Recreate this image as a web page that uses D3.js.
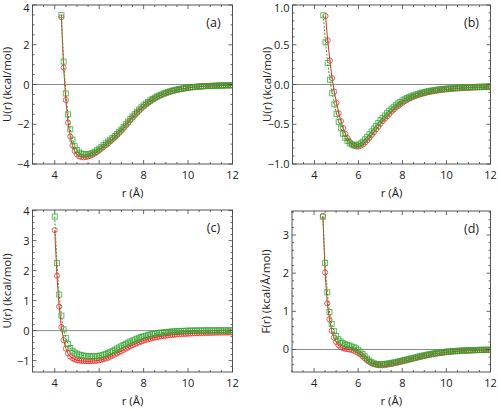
<!DOCTYPE html>
<html><head><meta charset="utf-8">
<script src="https://cdn.jsdelivr.net/npm/d3@7"></script>
<style>
body{margin:0;background:#fff;}
text{font-family:"Open Sans",sans-serif;fill:#222;}
</style></head>
<body><svg id="c" width="498" height="409"></svg>
<script>
// ---------- data (r in Å, 0.1 Å sampling) ----------
const xTicks = [4, 6, 8, 10, 12];
const aStart = 4.3;
const aGreen = [3.50,1.15,-0.45,-1.50,-2.25,-2.77,-3.10,-3.30,-3.42,-3.48,-3.51,-3.52,-3.51,-3.48,-3.44,-3.38,-3.31,-3.23,-3.14,-3.05,-2.96,-2.87,-2.78,-2.69,-2.59,-2.49,-2.38,-2.26,-2.13,-2.00,-1.87,-1.74,-1.61,-1.49,-1.37,-1.26,-1.15,-1.05,-0.96,-0.88,-0.80,-0.73,-0.66,-0.60,-0.55,-0.50,-0.45,-0.41,-0.37,-0.34,-0.31,-0.28,-0.25,-0.23,-0.21,-0.19,-0.17,-0.155,-0.14,-0.13,-0.12,-0.11,-0.10,-0.09,-0.085,-0.08,-0.075,-0.07,-0.065,-0.06,-0.055,-0.05,-0.048,-0.045,-0.042,-0.04,-0.038,-0.035];
const aRed = [3.38,0.85,-0.78,-1.92,-2.62,-3.07,-3.35,-3.52,-3.61,-3.65,-3.66,-3.65,-3.62,-3.58,-3.53,-3.47,-3.40,-3.32,-3.23,-3.14,-3.05,-2.96,-2.86,-2.76,-2.66,-2.55,-2.44,-2.32,-2.19,-2.06,-1.93,-1.80,-1.67,-1.55,-1.43,-1.32,-1.21,-1.11,-1.01,-0.93,-0.85,-0.77,-0.70,-0.64,-0.58,-0.53,-0.48,-0.44,-0.40,-0.36,-0.33,-0.30,-0.27,-0.25,-0.23,-0.21,-0.19,-0.17,-0.155,-0.14,-0.13,-0.12,-0.11,-0.10,-0.095,-0.09,-0.085,-0.08,-0.075,-0.07,-0.065,-0.06,-0.057,-0.054,-0.051,-0.048,-0.045,-0.042];

const bGreenStart = 4.4;
const bGreen = [0.87,0.53,0.27,0.06,-0.11,-0.25,-0.37,-0.47,-0.55,-0.62,-0.67,-0.71,-0.74,-0.755,-0.765,-0.765,-0.755,-0.74,-0.72,-0.69,-0.66,-0.625,-0.59,-0.555,-0.52,-0.485,-0.45,-0.42,-0.39,-0.36,-0.33,-0.305,-0.28,-0.26,-0.24,-0.22,-0.20,-0.185,-0.17,-0.16,-0.148,-0.137,-0.127,-0.118,-0.11,-0.102,-0.095,-0.089,-0.083,-0.078,-0.073,-0.069,-0.065,-0.061,-0.058,-0.055,-0.052,-0.05,-0.048,-0.046,-0.044,-0.042,-0.04,-0.038,-0.037,-0.035,-0.034,-0.033,-0.032,-0.031,-0.03,-0.029,-0.028,-0.027,-0.026,-0.025,-0.025];
const bRedStart = 4.5;
const bRed = [0.86,0.555,0.30,0.08,-0.09,-0.23,-0.36,-0.46,-0.55,-0.62,-0.675,-0.72,-0.75,-0.77,-0.78,-0.78,-0.77,-0.755,-0.73,-0.70,-0.67,-0.635,-0.60,-0.565,-0.53,-0.495,-0.46,-0.43,-0.40,-0.37,-0.34,-0.315,-0.29,-0.27,-0.25,-0.23,-0.21,-0.195,-0.18,-0.167,-0.155,-0.144,-0.134,-0.125,-0.117,-0.109,-0.102,-0.096,-0.09,-0.085,-0.08,-0.076,-0.072,-0.068,-0.065,-0.062,-0.059,-0.056,-0.054,-0.052,-0.05,-0.048,-0.046,-0.044,-0.043,-0.042,-0.04,-0.039,-0.038,-0.037,-0.036,-0.035,-0.034,-0.033,-0.032,-0.031];

const cStart = 4.0;
const cGreen = [3.80,2.25,1.20,0.50,0.04,-0.25,-0.45,-0.58,-0.67,-0.73,-0.77,-0.80,-0.82,-0.835,-0.845,-0.85,-0.855,-0.855,-0.855,-0.85,-0.84,-0.825,-0.805,-0.78,-0.75,-0.72,-0.68,-0.64,-0.60,-0.56,-0.52,-0.48,-0.44,-0.40,-0.365,-0.33,-0.30,-0.27,-0.24,-0.215,-0.19,-0.17,-0.15,-0.13,-0.115,-0.10,-0.088,-0.077,-0.067,-0.058,-0.05,-0.043,-0.036,-0.03,-0.025,-0.02,-0.016,-0.012,-0.009,-0.006,-0.004,-0.002,0.0,0.001,0.002,0.003,0.004,0.005,0.005,0.006,0.006,0.006,0.007,0.007,0.007,0.007,0.007,0.007,0.007,0.007,0.007];
const cRed = [3.35,1.83,0.80,0.12,-0.32,-0.60,-0.76,-0.86,-0.92,-0.96,-0.985,-1.00,-1.01,-1.015,-1.02,-1.02,-1.02,-1.015,-1.01,-1.00,-0.99,-0.975,-0.955,-0.93,-0.90,-0.87,-0.835,-0.80,-0.76,-0.72,-0.68,-0.64,-0.60,-0.56,-0.52,-0.485,-0.45,-0.42,-0.39,-0.36,-0.335,-0.31,-0.29,-0.27,-0.25,-0.235,-0.22,-0.205,-0.19,-0.18,-0.17,-0.16,-0.15,-0.142,-0.135,-0.128,-0.122,-0.116,-0.111,-0.106,-0.102,-0.098,-0.094,-0.091,-0.088,-0.085,-0.082,-0.08,-0.078,-0.076,-0.074,-0.072,-0.07,-0.068,-0.067,-0.066,-0.065,-0.064,-0.063,-0.062,-0.061];

const dStart = 4.4;
const dGreen = [3.48,2.27,1.50,0.98,0.67,0.48,0.36,0.27,0.21,0.17,0.14,0.12,0.10,0.08,0.06,0.03,-0.01,-0.06,-0.12,-0.18,-0.24,-0.29,-0.33,-0.36,-0.38,-0.39,-0.39,-0.385,-0.38,-0.372,-0.363,-0.353,-0.342,-0.33,-0.317,-0.303,-0.29,-0.276,-0.262,-0.248,-0.234,-0.22,-0.206,-0.192,-0.178,-0.165,-0.152,-0.14,-0.128,-0.117,-0.107,-0.097,-0.088,-0.08,-0.072,-0.065,-0.058,-0.052,-0.047,-0.042,-0.038,-0.034,-0.03,-0.027,-0.024,-0.021,-0.019,-0.017,-0.015,-0.013,-0.011,-0.01,-0.008,-0.007,-0.006,-0.005,-0.004];
const dRed = [3.50,2.02,1.21,0.79,0.49,0.31,0.20,0.12,0.07,0.04,0.02,0.01,0.0,-0.01,-0.03,-0.06,-0.09,-0.13,-0.18,-0.23,-0.28,-0.32,-0.36,-0.385,-0.40,-0.41,-0.415,-0.415,-0.41,-0.40,-0.39,-0.38,-0.368,-0.355,-0.342,-0.328,-0.314,-0.3,-0.286,-0.271,-0.256,-0.241,-0.226,-0.212,-0.198,-0.184,-0.171,-0.158,-0.146,-0.135,-0.124,-0.114,-0.105,-0.096,-0.088,-0.081,-0.074,-0.068,-0.062,-0.057,-0.052,-0.048,-0.044,-0.04,-0.037,-0.034,-0.031,-0.029,-0.027,-0.025,-0.023,-0.021,-0.02,-0.019,-0.018,-0.017,-0.016];

const panels = [
  {id:"(a)", ylab:"U(r) (kcal/mol)", yTicks:[-4,-2,0,2,4], yMinor:0.5, yDom:[-4,4], fmt:d3.format("d"),
   red:{start:aStart, v:aRed}, green:{start:aStart, v:aGreen}, box:[32.5,232.5,5,164]},
  {id:"(b)", ylab:"U(r) (kcal/mol)", yTicks:[-1,-0.5,0,0.5,1], yMinor:0.1, yDom:[-1,1], fmt:d3.format(".1f"),
   red:{start:bRedStart, v:bRed}, green:{start:bGreenStart, v:bGreen}, box:[292.5,490.5,5,164]},
  {id:"(c)", ylab:"U(r) (kcal/mol)", yTicks:[-1,0,1,2,3,4], yMinor:0.2, yDom:[-1.38,4.02], fmt:d3.format("d"),
   red:{start:cStart, v:cRed}, green:{start:cStart, v:cGreen}, box:[32.5,232.5,210,372]},
  {id:"(d)", ylab:"F(r) (kcal/Å/mol)", yTicks:[0,1,2,3], yMinor:0.2, yDom:[-0.59,3.63], fmt:d3.format("d"),
   red:{start:dStart, v:dRed}, green:{start:dStart, v:dGreen}, box:[292,490.5,211,372]}
];

const svg = d3.select("#c");
const RED = "#ee2a2a", GREEN = "#2fa52f";

panels.forEach((p, pi) => {
  const [x0,x1,y0,y1] = p.box;
  const x = d3.scaleLinear().domain([3,12]).range([x0,x1]);
  const y = d3.scaleLinear().domain(p.yDom).range([y1,y0]);
  const g = svg.append("g");
  const clipId = "clip"+pi;
  g.append("clipPath").attr("id",clipId).append("rect")
    .attr("x",x0).attr("y",y0-4).attr("width",x1-x0).attr("height",y1-y0+4);

  // zero line
  g.append("line").attr("x1",x0).attr("x2",x1).attr("y1",y(0)).attr("y2",y(0))
    .attr("stroke","#8a8a8a").attr("stroke-width",1);

  const toPts = s => s.v.map((v,i)=>({r: +(s.start + i*0.1).toFixed(2), v}));
  const redPts = toPts(p.red), greenPts = toPts(p.green);
  const line = d3.line().x(d=>x(d.r)).y(d=>y(d.v));
  const dg = g.append("g").attr("clip-path",`url(#${clipId})`);

  dg.append("path").datum(redPts).attr("d",line).attr("fill","none")
    .attr("stroke",RED).attr("stroke-width",1);
  dg.selectAll("circle.r").data(redPts).enter().append("circle")
    .attr("cx",d=>x(d.r)).attr("cy",d=>y(d.v)).attr("r",2.6)
    .attr("fill","none").attr("stroke",RED).attr("stroke-width",1).attr("stroke-opacity",0.75);

  dg.append("path").datum(greenPts).attr("d",line).attr("fill","none")
    .attr("stroke",GREEN).attr("stroke-width",1).attr("stroke-dasharray","2,1.5");
  dg.selectAll("rect.g").data(greenPts).enter().append("rect")
    .attr("x",d=>x(d.r)-2.5).attr("y",d=>y(d.v)-2.5).attr("width",5).attr("height",5)
    .attr("fill","none").attr("stroke",GREEN).attr("stroke-width",1).attr("stroke-opacity",0.75);

  // frame
  g.append("rect").attr("x",x0).attr("y",y0).attr("width",x1-x0).attr("height",y1-y0)
    .attr("fill","none").attr("stroke","#555").attr("stroke-width",1);

  // ticks
  const tk = g.append("g").attr("stroke","#444").attr("stroke-width",0.8);
  const xMinor = d3.range(3,12.001,0.5);
  xMinor.forEach(t=>{
    const major = xTicks.includes(t);
    const L = major?4:2;
    tk.append("line").attr("x1",x(t)).attr("x2",x(t)).attr("y1",y1).attr("y2",y1-L);
    tk.append("line").attr("x1",x(t)).attr("x2",x(t)).attr("y1",y0).attr("y2",y0+L);
  });
  const yMin = Math.ceil(p.yDom[0]/p.yMinor-1e-6), yMax = Math.floor(p.yDom[1]/p.yMinor+1e-6);
  for(let k=yMin;k<=yMax;k++){
    const t = +(k*p.yMinor).toFixed(3);
    const major = p.yTicks.some(m=>Math.abs(m-t)<1e-6);
    const L = major?4:2;
    tk.append("line").attr("x1",x0).attr("x2",x0+L).attr("y1",y(t)).attr("y2",y(t));
    tk.append("line").attr("x1",x1).attr("x2",x1-L).attr("y1",y(t)).attr("y2",y(t));
  }

  // tick labels
  xTicks.forEach(t=>{
    g.append("text").attr("x",x(t)).attr("y",y1+15).attr("text-anchor","middle")
      .attr("font-size",11).text(t);
  });
  p.yTicks.forEach(t=>{
    g.append("text").attr("x",x0-3).attr("y",Math.max(y(t)+4, 12)).attr("text-anchor","end")
      .attr("font-size",11).text(p.fmt(t));
  });

  // axis titles
  g.append("text").attr("x",(x0+x1)/2).attr("y",y1+33).attr("text-anchor","middle")
    .attr("font-size",11.5).text("r (Å)");
  g.append("text").attr("transform",`translate(${x0-22},${(y0+y1)/2}) rotate(-90)`)
    .attr("text-anchor","middle").attr("font-size",11.5).text(p.ylab);

  // panel label
  g.append("text").attr("x",x1-19).attr("y",y0+22).attr("text-anchor","middle")
    .attr("font-size",12.5).text(p.id);
});
</script></body></html>
